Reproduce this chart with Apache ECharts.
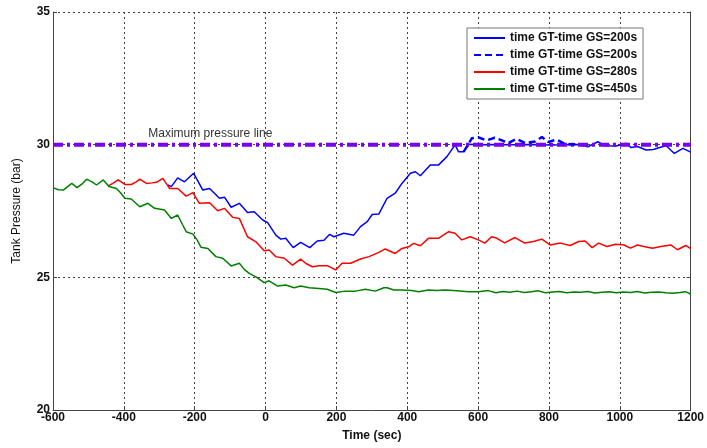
<!DOCTYPE html>
<html>
<head>
<meta charset="utf-8">
<script src="https://cdn.jsdelivr.net/npm/echarts@6/dist/echarts.min.js"></script>
<style>
  html, body { margin: 0; padding: 0; background: #ffffff; }
  #chart { width: 707px; height: 448px; }
</style>
</head>
<body>
<div id="chart"></div>
<script>
// Legend texts (the two 200 s runs share the same caption)
const legendLabels = [
  'time GT-time GS=200s',
  'time GT-time GS=200s',
  'time GT-time GS=280s',
  'time GT-time GS=450s'
];
const seriesKeys = ['gs200', 'gs200dash', 'gs280', 'gs450'];

const xTicks = { min: -600, max: 1200, step: 200 };
const yTicks = { min: 20, max: 35, step: 5 };

const maxPressure = 30;
const maxPressureText = 'Maximum pressure line';
const maxPressureTextAt = -156;

// GS = 200 s, solid trace (time in s, pressure in bar)
const time200 = [-276, -266, -248, -229, -203, -177, -158, -130, -116, -97, -74, -51, -32, -8, 6, 10, 29, 43, 57, 78,
  99, 125, 146, 165, 181, 193, 221, 249, 268, 287, 301, 320, 343, 366, 385, 409, 423, 437, 465, 488,
  512, 535, 545, 559, 573, 600, 650, 700, 750, 800, 850, 880, 910, 938, 957, 990, 1018, 1032, 1050, 1074,
  1095, 1112, 1131, 1154, 1178, 1200];
const pres200 = [28.48, 28.42, 28.75, 28.60, 28.92, 28.29, 28.35, 27.98, 28.02, 27.64, 27.79, 27.44, 27.47, 27.16, 27.06, 27.00, 26.59, 26.44, 26.47, 26.12,
  26.32, 26.12, 26.37, 26.40, 26.62, 26.53, 26.66, 26.59, 26.91, 27.10, 27.37, 27.39, 27.98, 28.17, 28.54, 28.92, 28.98, 28.83, 29.23, 29.23,
  29.55, 29.99, 29.73, 29.73, 30.02, 30.00, 30.01, 30.00, 30.01, 29.99, 30.00, 30.01, 29.92, 30.11, 29.96, 29.95, 30.05, 29.89, 29.93, 29.80,
  29.82, 29.89, 29.96, 29.67, 29.86, 29.72];

// GS = 200 s, dashed trace (only where it departs from the solid one)
const time200d = [559, 573, 582, 600, 623, 647, 669, 685, 708, 733, 761, 780, 798, 822, 842, 860, 880];
const pres200d = [29.73, 30.02, 30.24, 30.28, 30.16, 30.26, 30.15, 30.06, 30.22, 30.06, 30.12, 30.29, 30.10, 30.19, 30.05, 30.02, 30.01];

// GS = 280 s
const time280 = [-444, -430, -416, -397, -379, -365, -355, -336, -320, -308, -290, -271, -248, -224, -205, -187, -158, -135, -116, -93,
  -74, -51, -27, -4, 10, 29, 53, 76, 99, 113, 132, 151, 174, 198, 216, 240, 268, 292, 320, 338,
  366, 385, 404, 418, 437, 460, 488, 517, 535, 554, 578, 601, 619, 638, 652, 675, 704, 732, 756, 780,
  803, 832, 860, 884, 902, 922, 940, 964, 988, 1012, 1030, 1050, 1068, 1092, 1116, 1144, 1163, 1186, 1200];
const pres280 = [28.45, 28.55, 28.67, 28.50, 28.50, 28.60, 28.70, 28.54, 28.56, 28.58, 28.73, 28.35, 28.35, 28.06, 28.19, 27.79, 27.81, 27.51, 27.60, 27.26,
  27.22, 26.53, 26.34, 26.00, 26.03, 25.78, 25.72, 25.46, 25.69, 25.53, 25.40, 25.44, 25.44, 25.28, 25.53, 25.53, 25.69, 25.78, 25.94, 26.07,
  25.90, 26.09, 26.15, 26.28, 26.19, 26.47, 26.47, 26.72, 26.66, 26.41, 26.53, 26.41, 26.29, 26.53, 26.48, 26.30, 26.50, 26.29, 26.35, 26.44,
  26.22, 26.29, 26.20, 26.35, 26.37, 26.12, 26.29, 26.16, 26.25, 26.22, 26.10, 26.22, 26.16, 26.10, 26.16, 26.22, 26.04, 26.20, 26.08];

// GS = 450 s
const time450 = [-600, -585, -571, -547, -532, -518, -505, -490, -477, -458, -442, -421, -410, -397, -379, -355, -332, -313, -285, -266,
  -248, -235, -224, -205, -193, -182, -163, -140, -121, -97, -74, -60, -46, -27, -4, 10, 34, 57, 81, 99,
  123, 151, 174, 198, 226, 254, 282, 310, 334, 343, 362, 385, 413, 432, 460, 483, 507, 530, 573, 601,
  629, 650, 670, 690, 710, 730, 750, 770, 790, 810, 830, 850, 870, 890, 910, 930, 950, 970, 990, 1010,
  1030, 1050, 1070, 1090, 1110, 1130, 1150, 1170, 1185, 1200];
const pres450 = [28.38, 28.30, 28.29, 28.54, 28.38, 28.52, 28.70, 28.60, 28.48, 28.67, 28.42, 28.35, 28.20, 27.98, 27.95, 27.66, 27.79, 27.60, 27.54, 27.22,
  27.35, 27.00, 26.72, 26.63, 26.40, 26.13, 26.09, 25.78, 25.72, 25.43, 25.53, 25.30, 25.15, 25.02, 24.80, 24.87, 24.67, 24.71, 24.61, 24.67,
  24.61, 24.58, 24.55, 24.43, 24.48, 24.48, 24.55, 24.48, 24.61, 24.61, 24.52, 24.52, 24.50, 24.46, 24.52, 24.50, 24.52, 24.50, 24.46, 24.46,
  24.50, 24.42, 24.47, 24.44, 24.48, 24.43, 24.46, 24.49, 24.42, 24.45, 24.47, 24.42, 24.45, 24.44, 24.47, 24.41, 24.44, 24.46, 24.42, 24.45,
  24.43, 24.47, 24.41, 24.44, 24.45, 24.42, 24.40, 24.43, 24.46, 24.37];

const zip = (xs, ys) => xs.map((x, i) => [x, ys[i]]);

const FONT = 'Arial, "Liberation Sans", sans-serif';
const gridLine = { show: true, lineStyle: { color: '#444', width: 1, type: [2, 3] } };

const chart = echarts.init(document.getElementById('chart'), null, { renderer: 'canvas' });

chart.setOption({
  animation: false,
  backgroundColor: '#ffffff',
  grid: { left: 53, right: 14, top: 12, bottom: 38 },
  legend: {
    data: seriesKeys,
    formatter: name => legendLabels[seriesKeys.indexOf(name)],
    orient: 'vertical',
    left: 467,
    top: 28,
    itemWidth: 31,
    itemHeight: 14,
    itemGap: 5,
    padding: [4, 6, 4, 6],
    backgroundColor: '#ffffff',
    borderColor: '#777',
    borderWidth: 1,
    itemStyle: { opacity: 0 },
    textStyle: { fontFamily: FONT, fontSize: 12, fontWeight: 'bold', color: '#111' },
    selectedMode: false
  },
  xAxis: {
    type: 'value',
    min: xTicks.min, max: xTicks.max, interval: xTicks.step,
    name: 'Time (sec)',
    nameLocation: 'middle',
    nameGap: 20,
    nameTextStyle: { fontFamily: FONT, fontSize: 12, fontWeight: 'bold', color: '#111' },
    axisLine: { onZero: false, lineStyle: { color: '#444', width: 1 } },
    axisTick: { show: true, inside: true, length: 4, lineStyle: { color: '#444' } },
    axisLabel: { fontFamily: FONT, fontSize: 12, fontWeight: 'bold', color: '#111', margin: 2, formatter: v => String(v) },
    splitLine: gridLine
  },
  yAxis: [{
    type: 'value',
    min: yTicks.min, max: yTicks.max, interval: yTicks.step,
    name: 'Tank Pressure (bar)',
    nameLocation: 'middle',
    nameGap: 30,
    nameTextStyle: { fontFamily: FONT, fontSize: 12, color: '#111' },
    axisLine: { show: true, onZero: false, lineStyle: { color: '#444', width: 1 } },
    axisTick: { show: true, inside: true, length: 4, lineStyle: { color: '#444' } },
    axisLabel: { fontFamily: FONT, fontSize: 12, fontWeight: 'bold', color: '#111', margin: 3 },
    splitLine: gridLine
  }, {
    type: 'value',
    position: 'right',
    min: yTicks.min, max: yTicks.max, interval: yTicks.step,
    axisLine: { show: true, onZero: false, lineStyle: { color: '#444', width: 1 } },
    axisTick: { show: true, inside: true, length: 4, lineStyle: { color: '#444' } },
    axisLabel: { show: false },
    splitLine: { show: false }
  }],
  series: [
    {
      name: 'gs200', type: 'line', data: zip(time200, pres200),
      showSymbol: false, symbol: 'none', z: 2,
      lineStyle: { color: '#0000ff', width: 1.5 }, itemStyle: { color: '#0000ff' }
    },
    {
      name: 'gs280', type: 'line', data: zip(time280, pres280),
      showSymbol: false, symbol: 'none', z: 2,
      lineStyle: { color: '#ff0000', width: 1.5 }, itemStyle: { color: '#ff0000' }
    },
    {
      name: 'gs450', type: 'line', data: zip(time450, pres450),
      showSymbol: false, symbol: 'none', z: 2,
      lineStyle: { color: '#008000', width: 1.5 }, itemStyle: { color: '#008000' }
    },
    {
      name: 'maxPressure', type: 'line',
      data: [[xTicks.min, maxPressure], [xTicks.max, maxPressure]],
      showSymbol: false, symbol: 'none', z: 3,
      lineStyle: { color: '#7a00f0', width: 4, type: [10, 4, 3, 4] },
      markPoint: {
        symbol: 'circle', symbolSize: 0,
        data: [{ coord: [maxPressureTextAt, maxPressure] }],
        label: {
          show: true, position: 'top', distance: 5,
          formatter: maxPressureText,
          fontFamily: FONT, fontSize: 12, color: '#333'
        }
      }
    },
    {
      name: 'gs200dash', type: 'line', data: zip(time200d, pres200d),
      showSymbol: false, symbol: 'none', z: 4,
      lineStyle: { color: '#0000ff', width: 2.5, type: [7, 4] }, itemStyle: { color: '#0000ff' }
    }
  ]
});
</script>
</body>
</html>
